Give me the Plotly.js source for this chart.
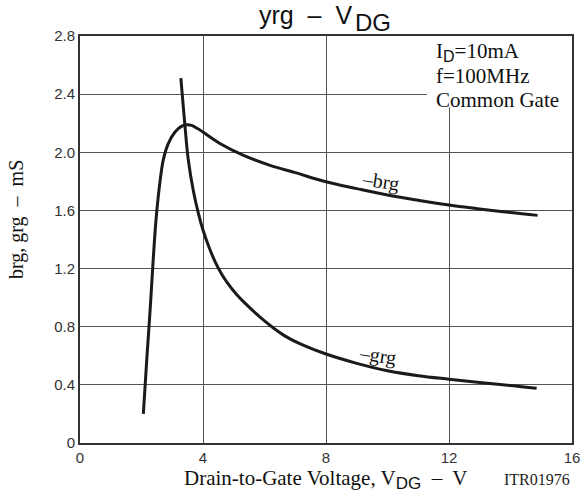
<!DOCTYPE html>
<html>
<head>
<meta charset="utf-8">
<script src="https://cdn.plot.ly/plotly-3.0.1.min.js"></script>
<style>html,body{margin:0;padding:0;background:#fff;}#chart{width:584px;height:500px;}</style>
</head>
<body>
<div id="chart"></div>
<script>
// -grg curve
const grgX = [3.28, 3.34, 3.41, 3.52, 3.69, 3.85, 4.0, 4.2, 4.4, 4.6, 4.8, 5.1, 5.4, 5.7, 6.0, 6.3, 6.7, 7.2, 8.0, 9.0, 10.0, 11.0, 12.0, 13.0, 14.0, 14.85];
const grgY = [2.51, 2.36, 2.19, 1.95, 1.73, 1.58, 1.465, 1.345, 1.245, 1.165, 1.10, 1.02, 0.955, 0.895, 0.84, 0.79, 0.732, 0.678, 0.612, 0.548, 0.497, 0.463, 0.439, 0.417, 0.396, 0.376];
// -brg curve
const brgX = [2.06, 2.17, 2.28, 2.38, 2.47, 2.58, 2.71, 2.87, 3.09, 3.31, 3.47, 3.63, 3.85, 4.55, 5.3, 6.18, 7.0, 8.0, 9.0, 10.0, 11.0, 12.0, 13.0, 14.0, 14.88];
const brgY = [0.2, 0.57, 0.915, 1.26, 1.53, 1.76, 1.95, 2.06, 2.14, 2.18, 2.19, 2.185, 2.16, 2.06, 1.98, 1.91, 1.86, 1.797, 1.75, 1.706, 1.67, 1.637, 1.61, 1.585, 1.566];

const xTicks = [0, 4, 8, 12, 16];
const yTicks = [0, 0.4, 0.8, 1.2, 1.6, 2.0, 2.4, 2.8];
const yTickText = ['0', '0.4', '0.8', '1.2', '1.6', '2.0', '2.4', '2.8'];

const titleMain = 'yrg  –  V';
const titleSub = 'DG';
const xTitle = 'Drain-to-Gate Voltage, V<sub><span style="font-family:Liberation Sans, Arial, sans-serif;font-size:17px">DG</span></sub>  –  V';
const yTitle = 'brg, grg  –  mS';
const conditions = ['I<sub><span style="font-family:Liberation Sans, Arial, sans-serif;font-size:16px">D</span></sub>=10mA', 'f=100MHz', 'Common Gate'];
const curveLabels = [{t: '–brg', x: 9.76, y: 1.80}, {t: '–grg', x: 9.66, y: 0.60}];
const codeText = 'ITR01976';

const lineStyle = {color: '#1a1a1a', width: 3, shape: 'spline', smoothing: 1};
const traces = [
  {x: grgX, y: grgY, mode: 'lines', line: lineStyle, hoverinfo: 'skip'},
  {x: brgX, y: brgY, mode: 'lines', line: lineStyle, hoverinfo: 'skip'}
];

const serif = 'Liberation Serif, Times New Roman, serif';
const sans = 'Liberation Sans, Arial, sans-serif';

// plot area in pixels: left 80, right 572, top 36, bottom 443
const W = 492, H = 407;
const px = v => (v - 80) / W;
const py = v => (443 - v) / H;

const annotations = [
  {xref: 'paper', yref: 'paper', x: px(354), y: py(15), xanchor: 'right', yanchor: 'middle', showarrow: false,
   text: titleMain, font: {family: sans, size: 25, color: '#111'}},
  {xref: 'paper', yref: 'paper', x: px(353), y: py(22), xanchor: 'left', yanchor: 'middle', showarrow: false,
   text: titleSub, font: {family: sans, size: 24, color: '#111'}},
  {xref: 'paper', yref: 'paper', x: px(326), y: py(479), xanchor: 'center', yanchor: 'middle', showarrow: false,
   text: xTitle, font: {family: serif, size: 21, color: '#111'}},
  {xref: 'paper', yref: 'paper', x: px(17), y: py(220), xanchor: 'center', yanchor: 'middle', showarrow: false,
   textangle: -90, text: yTitle, font: {family: serif, size: 20, color: '#111'}},
  {xref: 'paper', yref: 'paper', x: px(572), y: py(479), xanchor: 'right', yanchor: 'middle', showarrow: false,
   text: codeText, font: {family: serif, size: 16, color: '#222'}}
];
conditions.forEach((c, i) => {
  annotations.push({xref: 'paper', yref: 'paper', x: px(434), xanchor: 'left', y: py(52 + i * 24), yanchor: 'middle',
    showarrow: false, text: c, font: {family: serif, size: 21, color: '#111'}});
});
curveLabels.forEach(l => {
  annotations.push({xref: 'x', yref: 'y', x: l.x, y: l.y, showarrow: false, text: l.t,
    font: {family: serif, size: 20, color: '#111'}, textangle: 9});
});

const layout = {
  width: 584, height: 500,
  margin: {l: 80, r: 12, t: 36, b: 57},
  paper_bgcolor: '#fff', plot_bgcolor: '#fff',
  showlegend: false,
  xaxis: {
    range: [0, 16], tickvals: xTicks, ticks: '', ticklen: 0, showgrid: true, gridcolor: '#555', gridwidth: 1,
    showline: true, linecolor: '#333', linewidth: 2, mirror: true, zeroline: false,
    tickfont: {family: sans, size: 15, color: '#333'}, ticklabelstandoff: 0
  },
  yaxis: {
    range: [0, 2.8], tickvals: yTicks, ticktext: yTickText, ticks: '', ticklen: 0, showgrid: true, gridcolor: '#555', gridwidth: 1,
    showline: true, linecolor: '#333', linewidth: 2, mirror: true, zeroline: false,
    tickfont: {family: sans, size: 15, color: '#333'}, ticklabelstandoff: 0
  },
  shapes: [
    {type: 'rect', xref: 'x', yref: 'y', x0: 11.28, x1: 16, y0: 2.31, y1: 2.8, layer: 'between',
     fillcolor: '#fff', line: {width: 0}}
  ],
  annotations: annotations
};

Plotly.newPlot('chart', traces, layout, {staticPlot: true, displayModeBar: false});
</script>
</body>
</html>
